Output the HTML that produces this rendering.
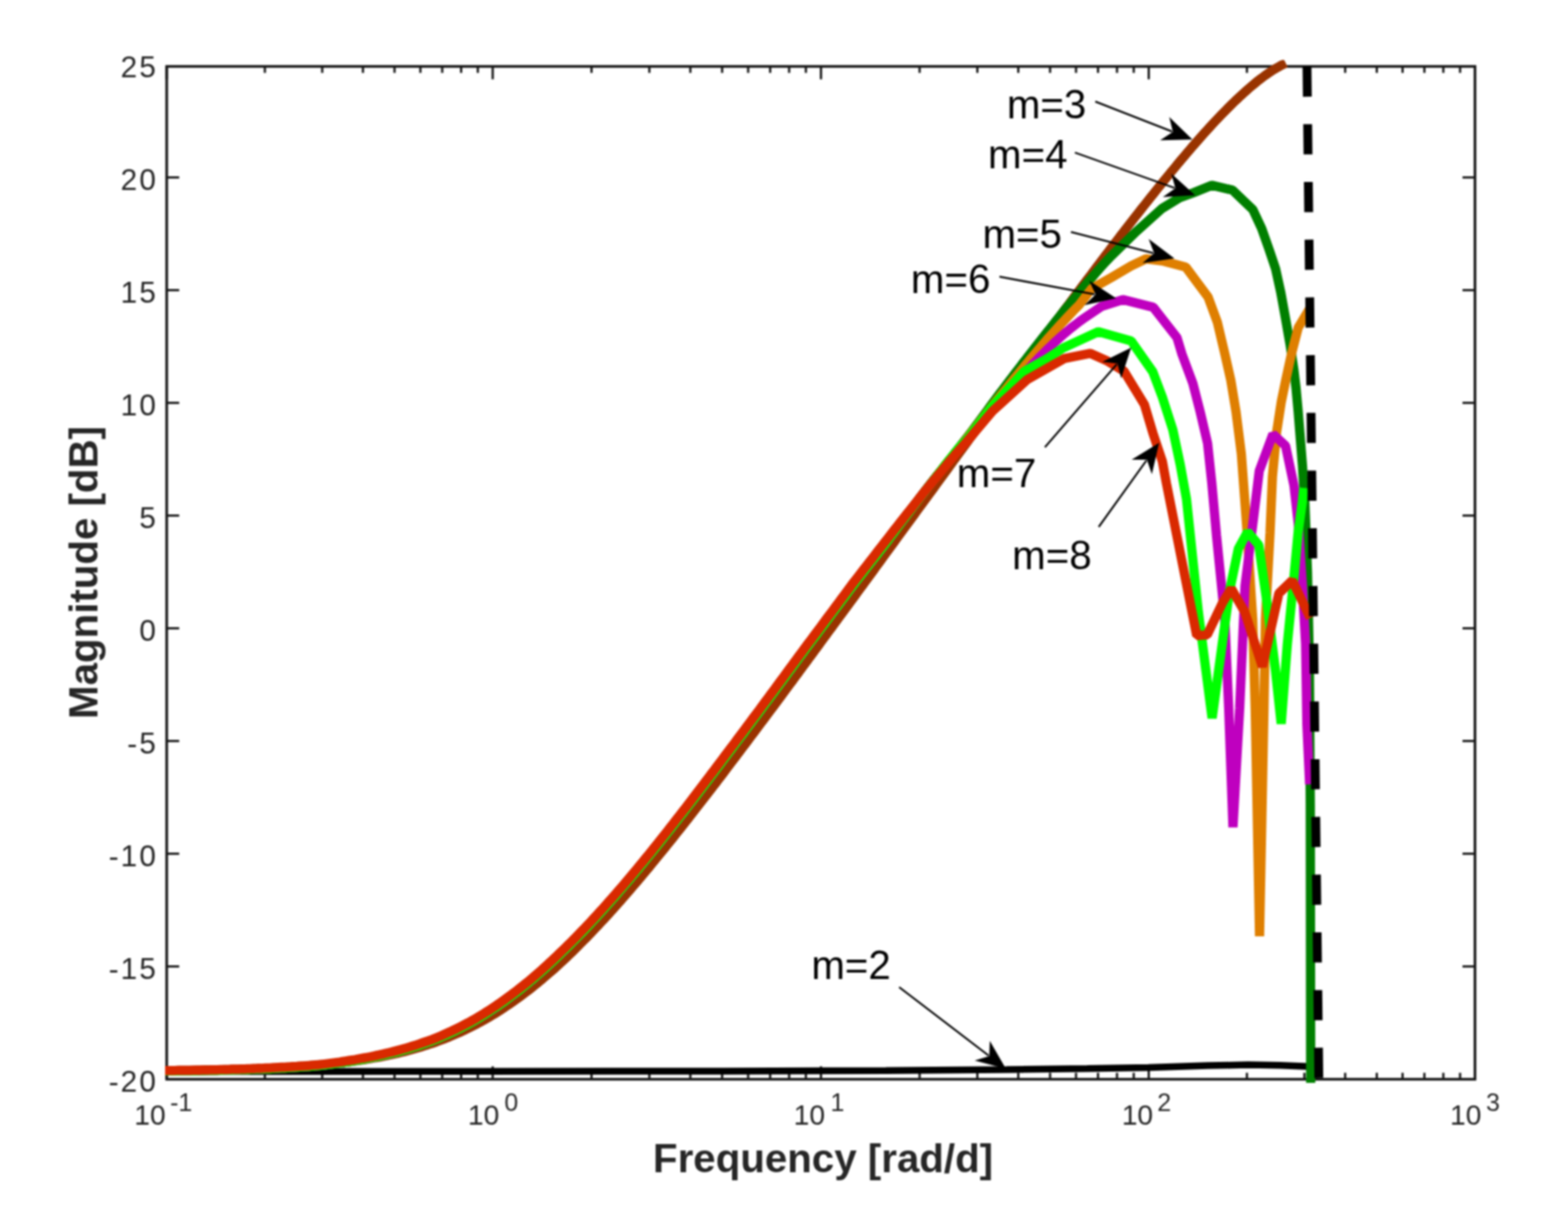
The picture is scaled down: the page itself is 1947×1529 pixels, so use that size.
<!DOCTYPE html>
<html><head><meta charset="utf-8"><title>Magnitude plot</title><style>html,body{margin:0;padding:0;background:#fff;}svg{display:block;filter:blur(1.0px);}</style></head><body>
<svg xmlns="http://www.w3.org/2000/svg" width="1947" height="1529" viewBox="0 0 1947 1529">
<rect x="0" y="0" width="1947" height="1529" fill="#ffffff"/>
<g>
<defs><clipPath id="ax"><rect x="199.0" y="74.5" width="1640.5" height="1274.0"/></clipPath></defs>
<path d="M207.0,1340.5h15.5M1831.5,1340.5h-15.5M207.0,1200.3h15.5M1831.5,1200.3h-15.5M207.0,1060.3h15.5M1831.5,1060.3h-15.5M207.0,920.3h15.5M1831.5,920.3h-15.5M207.0,780.3h15.5M1831.5,780.3h-15.5M207.0,640.3h15.5M1831.5,640.3h-15.5M207.0,500.3h15.5M1831.5,500.3h-15.5M207.0,360.3h15.5M1831.5,360.3h-15.5M207.0,220.3h15.5M1831.5,220.3h-15.5M207.0,82.5h15.5M1831.5,82.5h-15.5M207.0,1340.5v-16M207.0,82.5v16M328.9,1340.5v-8M328.9,82.5v8M400.1,1340.5v-8M400.1,82.5v8M450.7,1340.5v-8M450.7,82.5v8M489.9,1340.5v-8M489.9,82.5v8M522.0,1340.5v-8M522.0,82.5v8M549.1,1340.5v-8M549.1,82.5v8M572.6,1340.5v-8M572.6,82.5v8M593.3,1340.5v-8M593.3,82.5v8M611.8,1340.5v-16M611.8,82.5v16M734.5,1340.5v-8M734.5,82.5v8M806.3,1340.5v-8M806.3,82.5v8M857.2,1340.5v-8M857.2,82.5v8M896.7,1340.5v-8M896.7,82.5v8M929.0,1340.5v-8M929.0,82.5v8M956.3,1340.5v-8M956.3,82.5v8M979.9,1340.5v-8M979.9,82.5v8M1000.7,1340.5v-8M1000.7,82.5v8M1019.4,1340.5v-16M1019.4,82.5v16M1141.9,1340.5v-8M1141.9,82.5v8M1213.6,1340.5v-8M1213.6,82.5v8M1264.4,1340.5v-8M1264.4,82.5v8M1303.9,1340.5v-8M1303.9,82.5v8M1336.1,1340.5v-8M1336.1,82.5v8M1363.4,1340.5v-8M1363.4,82.5v8M1387.0,1340.5v-8M1387.0,82.5v8M1407.8,1340.5v-8M1407.8,82.5v8M1426.4,1340.5v-16M1426.4,82.5v16M1548.3,1340.5v-8M1548.3,82.5v8M1619.7,1340.5v-8M1619.7,82.5v8M1670.3,1340.5v-8M1670.3,82.5v8M1709.6,1340.5v-8M1709.6,82.5v8M1741.6,1340.5v-8M1741.6,82.5v8M1768.7,1340.5v-8M1768.7,82.5v8M1792.2,1340.5v-8M1792.2,82.5v8M1813.0,1340.5v-8M1813.0,82.5v8M1831.5,1340.5v-16M1831.5,82.5v16" stroke="#161616" stroke-width="2.8" fill="none"/>
<rect x="207.0" y="82.5" width="1624.5" height="1258.0" fill="none" stroke="#161616" stroke-width="3.3"/>
<g clip-path="url(#ax)" fill="none" stroke-linejoin="bevel" stroke-linecap="butt">
<polyline points="205.0,1331.0 600.0,1330.8 900.0,1330.4 1100.0,1329.8 1250.0,1328.5 1350.0,1327.3 1426.0,1326.0 1500.0,1323.6 1550.0,1322.6 1590.0,1323.2 1620.0,1324.4 1627.5,1324.8" stroke="#000000" stroke-width="8.5"/>
<polyline points="205.0,1329.8 208.5,1329.8 212.0,1329.7 215.5,1329.7 219.0,1329.7 222.5,1329.6 226.0,1329.6 229.5,1329.5 233.0,1329.5 236.5,1329.4 240.0,1329.4 243.5,1329.3 247.0,1329.3 250.5,1329.2 253.9,1329.1 257.4,1329.1 260.9,1329.0 264.4,1328.9 267.9,1328.9 271.4,1328.8 274.9,1328.7 278.4,1328.6 281.9,1328.5 285.4,1328.4 288.9,1328.3 292.4,1328.3 295.9,1328.2 299.4,1328.0 302.9,1327.9 306.4,1327.8 309.9,1327.7 313.4,1327.6 316.9,1327.5 320.4,1327.3 323.9,1327.2 327.4,1327.1 330.9,1326.9 334.4,1326.7 337.9,1326.6 341.4,1326.4 344.8,1326.3 348.3,1326.1 351.8,1325.9 355.3,1325.7 358.8,1325.5 362.3,1325.3 365.8,1325.1 369.3,1324.8 372.8,1324.6 376.3,1324.4 379.8,1324.1 383.3,1323.9 386.8,1323.6 390.3,1323.3 393.8,1323.0 397.3,1322.7 400.8,1322.4 404.3,1322.1 407.8,1321.7 411.3,1321.4 414.8,1321.0 418.3,1320.6 421.8,1320.2 425.3,1319.8 428.8,1319.4 432.3,1319.0 435.8,1318.5 439.2,1318.0 442.7,1317.6 446.2,1317.1 449.7,1316.5 453.2,1316.0 456.7,1315.4 460.2,1314.8 463.7,1314.2 467.2,1313.6 470.7,1313.0 474.2,1312.3 477.7,1311.6 481.2,1310.9 484.7,1310.2 488.2,1309.4 491.7,1308.6 495.2,1307.8 498.7,1307.0 502.2,1306.1 505.7,1305.2 509.2,1304.3 512.7,1303.3 516.2,1302.3 519.7,1301.3 523.2,1300.2 526.7,1299.1 530.2,1298.0 533.6,1296.9 537.1,1295.7 540.6,1294.5 544.1,1293.2 547.6,1291.9 551.1,1290.6 554.6,1289.2 558.1,1287.8 561.6,1286.3 565.1,1284.8 568.6,1283.3 572.1,1281.7 575.6,1280.1 579.1,1278.4 582.6,1276.7 586.1,1274.9 589.6,1273.1 593.1,1271.3 596.6,1269.4 600.1,1267.5 603.6,1265.5 607.1,1263.5 610.6,1261.4 614.1,1259.3 617.6,1257.1 621.1,1254.9 624.5,1252.6 628.0,1250.3 631.5,1248.0 635.0,1245.6 638.5,1243.1 642.0,1240.6 645.5,1238.1 649.0,1235.5 652.5,1232.8 656.0,1230.1 659.5,1227.4 663.0,1224.6 666.5,1221.8 670.0,1218.9 673.5,1216.0 677.0,1213.0 680.5,1210.0 684.0,1207.0 687.5,1203.9 691.0,1200.7 694.5,1197.5 698.0,1194.3 701.5,1191.0 705.0,1187.7 708.5,1184.3 712.0,1181.0 715.5,1177.5 718.9,1174.0 722.4,1170.5 725.9,1167.0 729.4,1163.4 732.9,1159.8 736.4,1156.1 739.9,1152.4 743.4,1148.7 746.9,1144.9 750.4,1141.2 753.9,1137.3 757.4,1133.5 760.9,1129.6 764.4,1125.7 767.9,1121.7 771.4,1117.8 774.9,1113.8 778.4,1109.7 781.9,1105.7 785.4,1101.6 788.9,1097.5 792.4,1093.4 795.9,1089.2 799.4,1085.1 802.9,1080.9 806.4,1076.7 809.8,1072.4 813.3,1068.2 816.8,1063.9 820.3,1059.6 823.8,1055.3 827.3,1051.0 830.8,1046.6 834.3,1042.3 837.8,1037.9 841.3,1033.5 844.8,1029.1 848.3,1024.7 851.8,1020.2 855.3,1015.8 858.8,1011.3 862.3,1006.8 865.8,1002.3 869.3,997.8 872.8,993.3 876.3,988.8 879.8,984.2 883.3,979.7 886.8,975.1 890.3,970.6 893.8,966.0 897.3,961.4 900.8,956.8 904.2,952.2 907.7,947.6 911.2,943.0 914.7,938.4 918.2,933.7 921.7,929.1 925.2,924.5 928.7,919.8 932.2,915.1 935.7,910.5 939.2,905.8 942.7,901.1 946.2,896.4 949.7,891.8 953.2,887.1 956.7,882.4 960.2,877.7 963.7,873.0 967.2,868.3 970.7,863.5 974.2,858.8 977.7,854.1 981.2,849.4 984.7,844.7 988.2,839.9 991.7,835.2 995.2,830.4 998.6,825.7 1002.1,821.0 1005.6,816.2 1009.1,811.5 1012.6,806.7 1016.1,802.0 1019.6,797.2 1023.1,792.4 1026.6,787.7 1030.1,782.9 1033.6,778.2 1037.1,773.4 1040.6,768.6 1044.1,763.9 1047.6,759.1 1051.1,754.3 1054.6,749.5 1058.1,744.8 1061.6,740.0 1065.1,735.2 1068.6,730.4 1072.1,725.7 1075.6,720.9 1079.1,716.1 1082.6,711.3 1086.1,706.5 1089.5,701.7 1093.0,697.0 1096.5,692.2 1100.0,687.4 1103.5,682.6 1107.0,677.8 1110.5,673.0 1114.0,668.2 1117.5,663.4 1121.0,658.6 1124.5,653.9 1128.0,649.1 1131.5,644.3 1135.0,639.5 1138.5,634.7 1142.0,629.9 1145.5,625.1 1149.0,620.3 1152.5,615.5 1156.0,610.8 1159.5,606.0 1163.0,601.2 1166.5,596.4 1170.0,591.6 1173.5,586.8 1177.0,582.0 1180.5,577.2 1183.9,572.4 1187.4,567.7 1190.9,562.9 1194.4,558.1 1197.9,553.3 1201.4,548.5 1204.9,543.7 1208.4,539.0 1211.9,534.2 1215.4,529.4 1218.9,524.6 1222.4,519.9 1225.9,515.1 1229.4,510.3 1232.9,505.5 1236.4,500.8 1239.9,496.0 1243.4,491.2 1246.9,486.5 1250.4,481.7 1253.9,476.9 1257.4,472.2 1260.9,467.4 1264.4,462.7 1267.9,457.9 1271.4,453.2 1274.8,448.4 1278.3,443.7 1281.8,439.0 1285.3,434.2 1288.8,429.5 1292.3,424.7 1295.8,420.0 1299.3,415.3 1302.8,410.6 1306.3,405.9 1309.8,401.1 1313.3,396.4 1316.8,391.7 1320.3,387.0 1323.8,382.3 1327.3,377.7 1330.8,373.0 1334.3,368.3 1337.8,363.6 1341.3,359.0 1344.8,354.3 1348.3,349.6 1351.8,345.0 1355.3,340.4 1358.8,335.7 1362.3,331.1 1365.8,326.5 1369.2,321.9 1372.7,317.3 1376.2,312.7 1379.7,308.1 1383.2,303.5 1386.7,299.0 1390.2,294.4 1393.7,289.9 1397.2,285.3 1400.7,280.8 1404.2,276.3 1407.7,271.8 1411.2,267.3 1414.7,262.9 1418.2,258.4 1421.7,254.0 1425.2,249.6 1428.7,245.2 1432.2,240.8 1435.7,236.4 1439.2,232.0 1442.7,227.7 1446.2,223.4 1449.7,219.1 1453.2,214.8 1456.7,210.6 1460.2,206.4 1463.6,202.2 1467.1,198.0 1470.6,193.9 1474.1,189.8 1477.6,185.7 1481.1,181.6 1484.6,177.6 1488.1,173.6 1491.6,169.6 1495.1,165.7 1498.6,161.8 1502.1,158.0 1505.6,154.2 1509.1,150.4 1512.6,146.7 1516.1,143.1 1519.6,139.5 1523.1,135.9 1526.6,132.4 1530.1,128.9 1533.6,125.5 1537.1,122.2 1540.6,118.9 1544.1,115.7 1547.6,112.6 1551.1,109.5 1554.5,106.6 1558.0,103.7 1561.5,100.8 1565.0,98.1 1568.5,95.5 1572.0,92.9 1575.5,90.5 1579.0,88.2 1582.5,86.0 1586.0,83.9 1589.5,81.9 1593.0,80.1 1596.5,78.4" stroke="#993300" stroke-width="11.5"/>
<polyline points="205.0,1330.3 208.9,1330.3 212.8,1330.2 216.7,1330.2 220.6,1330.2 224.5,1330.1 228.4,1330.1 232.3,1330.0 236.2,1330.0 240.1,1329.9 244.0,1329.8 247.9,1329.8 251.8,1329.7 255.7,1329.6 259.5,1329.6 263.4,1329.5 267.3,1329.4 271.2,1329.3 275.1,1329.3 279.0,1329.2 282.9,1329.1 286.8,1329.0 290.7,1328.9 294.6,1328.8 298.5,1328.6 302.4,1328.5 306.3,1328.4 310.2,1328.3 314.1,1328.2 318.0,1328.0 321.9,1327.9 325.8,1327.7 329.7,1327.6 333.6,1327.4 337.5,1327.2 341.4,1327.0 345.3,1326.8 349.2,1326.6 353.1,1326.4 357.0,1326.2 360.9,1326.0 364.7,1325.8 368.6,1325.5 372.5,1325.3 376.4,1325.0 380.3,1324.7 384.2,1324.4 388.1,1324.1 392.0,1323.8 395.9,1323.5 399.8,1323.1 403.7,1322.7 407.6,1322.2 411.5,1321.7 415.4,1321.2 419.3,1320.6 423.2,1320.1 427.1,1319.5 431.0,1318.9 434.9,1318.3 438.8,1317.7 442.7,1317.0 446.6,1316.4 450.5,1315.7 454.4,1315.0 458.3,1314.2 462.2,1313.4 466.1,1312.7 469.9,1311.8 473.8,1311.0 477.7,1310.1 481.6,1309.2 485.5,1308.3 489.4,1307.3 493.3,1306.3 497.2,1305.2 501.1,1304.2 505.0,1303.0 508.9,1301.9 512.8,1300.7 516.7,1299.5 520.6,1298.2 524.5,1296.9 528.4,1295.5 532.3,1294.2 536.2,1292.7 540.1,1291.2 544.0,1289.7 547.9,1288.0 551.8,1286.3 555.7,1284.6 559.6,1282.8 563.5,1281.0 567.4,1279.1 571.3,1277.2 575.2,1275.2 579.0,1273.2 582.9,1271.1 586.8,1268.9 590.7,1266.7 594.6,1264.4 598.5,1262.1 602.4,1259.7 606.3,1257.2 610.2,1254.7 614.1,1252.1 618.0,1249.4 621.9,1246.7 625.8,1244.0 629.7,1241.2 633.6,1238.3 637.5,1235.3 641.4,1232.4 645.3,1229.3 649.2,1226.3 653.1,1223.1 657.0,1219.9 660.9,1216.7 664.8,1213.4 668.7,1210.0 672.6,1206.6 676.5,1203.1 680.4,1199.6 684.2,1196.0 688.1,1192.3 692.0,1188.6 695.9,1184.9 699.8,1181.1 703.7,1177.3 707.6,1173.5 711.5,1169.6 715.4,1165.7 719.3,1161.7 723.2,1157.7 727.1,1153.6 731.0,1149.5 734.9,1145.3 738.8,1141.1 742.7,1136.9 746.6,1132.6 750.5,1128.3 754.4,1123.9 758.3,1119.5 762.2,1115.1 766.1,1110.6 770.0,1106.1 773.9,1101.5 777.8,1097.0 781.7,1092.3 785.6,1087.7 789.4,1083.0 793.3,1078.3 797.2,1073.6 801.1,1068.9 805.0,1064.1 808.9,1059.3 812.8,1054.4 816.7,1049.6 820.6,1044.7 824.5,1039.8 828.4,1034.9 832.3,1029.9 836.2,1025.0 840.1,1020.0 844.0,1015.0 847.9,1010.0 851.8,1004.9 855.7,999.9 859.6,994.8 863.5,989.7 867.4,984.6 871.3,979.5 875.2,974.3 879.1,969.2 883.0,964.0 886.9,958.8 890.8,953.7 894.6,948.5 898.5,943.3 902.4,938.1 906.3,932.9 910.2,927.7 914.1,922.6 918.0,917.4 921.9,912.2 925.8,907.0 929.7,901.8 933.6,896.5 937.5,891.3 941.4,886.1 945.3,880.8 949.2,875.6 953.1,870.3 957.0,865.0 960.9,859.8 964.8,854.5 968.7,849.2 972.6,843.9 976.5,838.7 980.4,833.4 984.3,828.1 988.2,822.8 992.1,817.5 996.0,812.1 999.8,806.8 1003.7,801.6 1007.6,796.4 1011.5,791.2 1015.4,786.0 1019.3,780.7 1023.2,775.5 1027.1,770.3 1031.0,765.0 1034.9,759.8 1038.8,754.6 1042.7,749.3 1046.6,744.1 1050.5,738.8 1054.4,733.6 1058.3,728.3 1062.2,723.2 1066.1,718.2 1070.0,713.2 1073.9,708.2 1077.8,703.2 1081.7,698.2 1085.6,693.2 1089.5,688.2 1093.4,683.2 1097.3,678.2 1101.2,673.1 1105.1,667.8 1108.9,662.6 1112.8,657.4 1116.7,652.2 1120.6,647.0 1124.5,641.8 1128.4,636.6 1132.3,631.4 1136.2,626.3 1140.1,621.1 1144.0,615.9 1147.9,610.7 1151.8,605.6 1155.7,600.6 1159.6,595.6 1163.5,590.7 1167.4,585.8 1171.3,580.9 1175.2,575.9 1179.1,570.9 1183.0,566.0 1186.9,561.0 1190.8,556.1 1194.7,551.1 1198.6,546.0 1202.5,541.0 1206.4,535.9 1210.3,530.8 1214.1,525.7 1218.0,520.4 1221.9,515.1 1225.8,509.8 1229.7,504.5 1233.6,499.2 1237.5,494.0 1241.4,488.8 1245.3,483.6 1249.2,478.4 1253.1,473.3 1257.0,468.2 1260.9,463.1 1264.8,458.0 1268.7,452.9 1272.6,447.9 1276.5,442.8 1280.4,437.8 1284.3,432.8 1288.2,427.8 1292.1,422.8 1296.0,417.8 1299.9,412.9 1303.8,408.0 1307.7,403.1 1311.6,398.2 1315.5,393.3 1319.3,388.5 1323.2,383.7 1327.1,378.9 1331.0,374.2 1334.9,369.4 1338.8,364.7 1342.7,360.1 1346.6,355.4 1350.5,350.8 1354.4,346.3 1358.3,341.7 1362.2,337.3 1366.1,332.8 1370.0,328.4 1380.0,317.8 1411.4,287.2 1442.8,259.0 1464.8,245.6 1482.0,239.3 1504.8,230.2 1530.4,236.1 1555.7,260.4 1566.7,284.0 1576.1,310.6 1584.0,334.2 1590.2,362.4 1596.5,397.0 1602.0,428.4 1606.7,459.8 1609.3,482.0 1612.0,511.8 1617.2,577.2 1620.3,625.0 1623.5,710.0 1625.8,820.0 1627.0,1000.0 1627.5,1345.0" stroke="#007f00" stroke-width="11.5"/>
<polyline points="205.0,1330.3 208.8,1330.3 212.6,1330.2 216.4,1330.2 220.2,1330.2 224.0,1330.1 227.8,1330.1 231.6,1330.0 235.4,1330.0 239.2,1329.9 243.0,1329.9 246.8,1329.8 250.6,1329.7 254.3,1329.7 258.1,1329.6 261.9,1329.5 265.7,1329.5 269.5,1329.4 273.3,1329.3 277.1,1329.2 280.9,1329.1 284.7,1329.0 288.5,1328.9 292.3,1328.8 296.1,1328.7 299.9,1328.6 303.7,1328.5 307.5,1328.4 311.3,1328.2 315.1,1328.1 318.9,1328.0 322.7,1327.8 326.5,1327.7 330.3,1327.5 334.1,1327.4 337.9,1327.2 341.7,1327.0 345.5,1326.8 349.2,1326.6 353.0,1326.4 356.8,1326.2 360.6,1326.0 364.4,1325.8 368.2,1325.5 372.0,1325.3 375.8,1325.0 379.6,1324.8 383.4,1324.5 387.2,1324.2 391.0,1323.9 394.8,1323.6 398.6,1323.2 402.4,1322.8 406.2,1322.4 410.0,1321.9 413.8,1321.4 417.6,1320.9 421.4,1320.3 425.2,1319.8 429.0,1319.2 432.8,1318.7 436.6,1318.1 440.4,1317.4 444.1,1316.8 447.9,1316.1 451.7,1315.4 455.5,1314.7 459.3,1314.0 463.1,1313.3 466.9,1312.5 470.7,1311.7 474.5,1310.8 478.3,1310.0 482.1,1309.1 485.9,1308.2 489.7,1307.2 493.5,1306.2 497.3,1305.2 501.1,1304.2 504.9,1303.1 508.7,1302.0 512.5,1300.8 516.3,1299.6 520.1,1298.4 523.9,1297.1 527.7,1295.8 531.5,1294.5 535.3,1293.1 539.0,1291.6 542.8,1290.1 546.6,1288.5 550.4,1286.9 554.2,1285.3 558.0,1283.5 561.8,1281.8 565.6,1280.0 569.4,1278.1 573.2,1276.2 577.0,1274.2 580.8,1272.2 584.6,1270.2 588.4,1268.1 592.2,1265.9 596.0,1263.6 599.8,1261.3 603.6,1258.9 607.4,1256.5 611.2,1254.0 615.0,1251.5 618.8,1248.9 622.6,1246.3 626.4,1243.6 630.2,1240.8 633.9,1238.0 637.7,1235.2 641.5,1232.2 645.3,1229.3 649.1,1226.3 652.9,1223.3 656.7,1220.1 660.5,1217.0 664.3,1213.8 668.1,1210.5 671.9,1207.2 675.7,1203.8 679.5,1200.3 683.3,1196.9 687.1,1193.3 690.9,1189.7 694.7,1186.1 698.5,1182.4 702.3,1178.7 706.1,1175.0 709.9,1171.2 713.7,1167.4 717.5,1163.6 721.3,1159.7 725.1,1155.7 728.8,1151.8 732.6,1147.7 736.4,1143.7 740.2,1139.6 744.0,1135.4 747.8,1131.2 751.6,1127.0 755.4,1122.7 759.2,1118.4 763.0,1114.1 766.8,1109.7 770.6,1105.3 774.4,1100.9 778.2,1096.4 782.0,1091.9 785.8,1087.4 789.6,1082.9 793.4,1078.3 797.2,1073.7 801.0,1069.1 804.8,1064.4 808.6,1059.7 812.4,1055.0 816.2,1050.3 819.9,1045.5 823.7,1040.8 827.5,1036.0 831.3,1031.2 835.1,1026.3 838.9,1021.5 842.7,1016.6 846.5,1011.7 850.3,1006.8 854.1,1001.9 857.9,997.0 861.7,992.0 865.5,987.0 869.3,982.1 873.1,977.1 876.9,972.1 880.7,967.0 884.5,962.0 888.3,957.0 892.1,951.9 895.9,946.8 899.7,941.8 903.5,936.7 907.3,931.7 911.1,926.7 914.8,921.6 918.6,916.6 922.4,911.5 926.2,906.4 930.0,901.3 933.8,896.2 937.6,891.1 941.4,886.0 945.2,880.9 949.0,875.8 952.8,870.7 956.6,865.6 960.4,860.4 964.2,855.3 968.0,850.2 971.8,845.0 975.6,839.9 979.4,834.7 983.2,829.5 987.0,824.4 990.8,819.2 994.6,814.0 998.4,808.9 1002.2,803.7 1006.0,798.7 1009.7,793.6 1013.5,788.5 1017.3,783.4 1021.1,778.3 1024.9,773.2 1028.7,768.1 1032.5,763.0 1036.3,757.9 1040.1,752.8 1043.9,747.7 1047.7,742.6 1051.5,737.5 1055.3,732.4 1059.1,727.3 1062.9,722.3 1066.7,717.5 1070.5,712.6 1074.3,707.7 1078.1,702.8 1081.9,697.9 1085.7,693.1 1089.5,688.2 1093.3,683.3 1097.1,678.4 1100.9,673.5 1104.6,668.4 1108.4,663.2 1112.2,658.2 1116.0,653.1 1119.8,648.1 1123.6,643.0 1127.4,638.0 1131.2,632.9 1135.0,627.9 1138.8,622.8 1142.6,617.8 1146.4,612.7 1150.2,607.7 1154.0,602.8 1157.8,597.9 1161.6,593.1 1165.4,588.4 1169.2,583.6 1173.0,578.9 1176.8,574.1 1180.6,569.3 1184.4,564.6 1188.2,559.9 1192.0,555.2 1195.8,550.4 1199.5,545.7 1203.3,540.9 1207.1,536.1 1210.9,531.4 1214.7,526.6 1218.5,521.6 1222.3,516.7 1226.1,511.8 1229.9,506.9 1233.7,502.1 1237.5,497.3 1241.3,492.6 1245.1,487.9 1248.9,483.3 1252.7,478.6 1256.5,473.9 1260.3,469.2 1264.1,464.6 1267.9,459.9 1271.7,455.3 1275.5,450.8 1279.3,446.2 1283.1,441.7 1286.9,437.2 1290.7,432.8 1294.4,428.3 1298.2,424.0 1302.0,419.6 1305.8,415.3 1309.6,411.1 1313.4,406.9 1317.2,402.7 1321.0,398.6 1324.8,394.5 1328.6,390.5 1332.4,386.5 1336.2,382.6 1340.0,378.8 1355.5,358.6 1380.0,344.7 1404.6,330.3 1423.0,321.5 1444.7,324.4 1472.4,331.8 1500.1,369.0 1511.6,400.3 1521.0,440.0 1528.3,472.3 1534.8,511.6 1541.4,563.9 1548.1,654.2 1555.5,769.2 1558.6,880.0 1564.0,1163.0 1569.5,880.0 1571.3,769.2 1577.0,662.0 1580.0,592.0 1585.0,538.0 1591.0,499.0 1597.0,470.0 1604.0,438.0 1612.0,407.0 1627.0,382.0" stroke="#df7f00" stroke-width="11.5"/>
<polyline points="205.0,1330.3 208.8,1330.3 212.6,1330.2 216.4,1330.2 220.3,1330.2 224.1,1330.1 227.9,1330.1 231.7,1330.0 235.5,1330.0 239.3,1329.9 243.1,1329.8 246.9,1329.8 250.8,1329.7 254.6,1329.7 258.4,1329.6 262.2,1329.5 266.0,1329.4 269.8,1329.4 273.6,1329.3 277.4,1329.2 281.3,1329.1 285.1,1329.0 288.9,1328.9 292.7,1328.8 296.5,1328.7 300.3,1328.6 304.1,1328.5 307.9,1328.4 311.8,1328.2 315.6,1328.1 319.4,1328.0 323.2,1327.8 327.0,1327.7 330.8,1327.5 334.6,1327.3 338.4,1327.2 342.3,1327.0 346.1,1326.8 349.9,1326.6 353.7,1326.4 357.5,1326.2 361.3,1326.0 365.1,1325.7 368.9,1325.5 372.8,1325.3 376.6,1325.0 380.4,1324.7 384.2,1324.4 388.0,1324.1 391.8,1323.8 395.6,1323.5 399.4,1323.2 403.3,1322.7 407.1,1322.3 410.9,1321.8 414.7,1321.3 418.5,1320.7 422.3,1320.2 426.1,1319.7 429.9,1319.1 433.8,1318.5 437.6,1317.9 441.4,1317.3 445.2,1316.6 449.0,1315.9 452.8,1315.2 456.6,1314.5 460.5,1313.8 464.3,1313.0 468.1,1312.2 471.9,1311.4 475.7,1310.6 479.5,1309.7 483.3,1308.8 487.1,1307.9 491.0,1306.9 494.8,1305.9 498.6,1304.9 502.4,1303.8 506.2,1302.7 510.0,1301.6 513.8,1300.4 517.6,1299.2 521.5,1297.9 525.3,1296.6 529.1,1295.3 532.9,1293.9 536.7,1292.5 540.5,1291.1 544.3,1289.5 548.1,1287.9 552.0,1286.3 555.8,1284.6 559.6,1282.8 563.4,1281.0 567.2,1279.2 571.0,1277.3 574.8,1275.4 578.6,1273.4 582.5,1271.3 586.3,1269.2 590.1,1267.1 593.9,1264.9 597.7,1262.6 601.5,1260.2 605.3,1257.8 609.1,1255.4 613.0,1252.9 616.8,1250.3 620.6,1247.7 624.4,1245.0 628.2,1242.2 632.0,1239.5 635.8,1236.6 639.6,1233.7 643.5,1230.8 647.3,1227.8 651.1,1224.7 654.9,1221.6 658.7,1218.5 662.5,1215.3 666.3,1212.0 670.2,1208.7 674.0,1205.3 677.8,1201.9 681.6,1198.4 685.4,1194.9 689.2,1191.3 693.0,1187.7 696.8,1184.0 700.7,1180.3 704.5,1176.6 708.3,1172.8 712.1,1169.0 715.9,1165.2 719.7,1161.3 723.5,1157.3 727.3,1153.3 731.2,1149.3 735.0,1145.2 738.8,1141.1 742.6,1137.0 746.4,1132.8 750.2,1128.6 754.0,1124.3 757.8,1120.0 761.7,1115.6 765.5,1111.3 769.3,1106.9 773.1,1102.4 776.9,1098.0 780.7,1093.5 784.5,1088.9 788.3,1084.4 792.2,1079.8 796.0,1075.2 799.8,1070.5 803.6,1065.8 807.4,1061.2 811.2,1056.4 815.0,1051.7 818.8,1046.9 822.7,1042.1 826.5,1037.3 830.3,1032.5 834.1,1027.7 837.9,1022.8 841.7,1017.9 845.5,1013.0 849.3,1008.1 853.2,1003.1 857.0,998.2 860.8,993.2 864.6,988.2 868.4,983.2 872.2,978.2 876.0,973.2 879.8,968.1 883.7,963.1 887.5,958.0 891.3,953.0 895.1,947.9 898.9,942.8 902.7,937.7 906.5,932.7 910.4,927.6 914.2,922.5 918.0,917.4 921.8,912.4 925.6,907.3 929.4,902.2 933.2,897.0 937.0,891.9 940.9,886.8 944.7,881.7 948.5,876.5 952.3,871.4 956.1,866.2 959.9,861.1 963.7,855.9 967.5,850.8 971.4,845.6 975.2,840.4 979.0,835.2 982.8,830.1 986.6,824.9 990.4,819.7 994.2,814.5 998.0,809.3 1001.9,804.1 1005.7,799.0 1009.5,793.9 1013.3,788.8 1017.1,783.7 1020.9,778.6 1024.7,773.5 1028.5,768.4 1032.4,763.2 1036.2,758.1 1040.0,753.0 1043.8,747.9 1047.6,742.7 1051.4,737.6 1055.2,732.5 1059.0,727.3 1062.9,722.4 1066.7,717.5 1070.5,712.6 1074.3,707.7 1078.1,702.8 1081.9,697.9 1085.7,693.0 1089.5,688.1 1093.4,683.2 1097.2,678.3 1101.0,673.3 1104.8,668.2 1108.6,663.0 1112.4,657.9 1116.2,652.8 1120.1,647.8 1123.9,642.7 1127.7,637.6 1131.5,632.6 1135.3,627.5 1139.1,622.4 1142.9,617.3 1146.7,612.3 1150.6,607.2 1154.4,602.3 1158.2,597.4 1162.0,592.7 1165.8,588.0 1169.6,583.3 1173.4,578.6 1177.2,573.9 1181.1,569.2 1184.9,564.7 1188.7,560.1 1192.5,555.5 1196.3,550.9 1200.1,546.3 1203.9,541.7 1207.7,537.2 1211.6,532.7 1215.4,528.1 1219.2,523.5 1223.0,518.8 1226.8,514.3 1230.6,509.8 1234.4,505.4 1238.2,501.1 1242.1,496.9 1245.9,492.7 1249.7,488.7 1253.5,484.3 1257.3,480.0 1261.1,475.7 1264.9,471.4 1268.7,467.2 1272.6,463.0 1276.4,458.8 1280.2,454.8 1284.0,450.7 1287.8,446.8 1291.6,442.8 1295.4,439.0 1299.2,435.2 1303.1,431.5 1306.9,427.8 1310.7,424.3 1314.5,420.8 1318.3,417.3 1322.1,414.0 1325.9,410.8 1329.7,407.6 1333.6,404.6 1337.4,401.7 1341.2,398.8 1345.0,396.1 1368.0,380.6 1394.2,372.2 1432.0,381.6 1461.4,419.2 1467.7,440.0 1481.2,476.2 1490.3,511.6 1499.5,550.8 1504.7,600.0 1510.5,664.6 1520.9,769.2 1525.7,880.0 1531.0,1027.5 1539.3,880.0 1546.0,727.4 1556.5,643.7 1563.6,585.1 1580.6,539.3 1596.3,553.7 1606.8,603.4 1612.0,650.0 1617.2,727.4 1621.2,800.0 1622.8,900.0 1626.2,974.2" stroke="#bf00bf" stroke-width="11.5"/>
<polyline points="205.0,1330.3 208.8,1330.3 212.6,1330.2 216.4,1330.2 220.2,1330.2 224.0,1330.1 227.8,1330.1 231.6,1330.0 235.4,1330.0 239.2,1329.9 243.0,1329.9 246.8,1329.8 250.6,1329.7 254.4,1329.7 258.2,1329.6 262.0,1329.5 265.8,1329.4 269.7,1329.4 273.5,1329.3 277.3,1329.2 281.1,1329.1 284.9,1329.0 288.7,1328.9 292.5,1328.8 296.3,1328.7 300.1,1328.6 303.9,1328.5 307.7,1328.4 311.5,1328.2 315.3,1328.1 319.1,1328.0 322.9,1327.8 326.7,1327.7 330.5,1327.5 334.3,1327.4 338.1,1327.2 341.9,1327.0 345.7,1326.8 349.5,1326.6 353.3,1326.4 357.1,1326.2 360.9,1326.0 364.7,1325.8 368.5,1325.5 372.3,1325.3 376.1,1325.0 379.9,1324.7 383.7,1324.5 387.5,1324.2 391.4,1323.9 395.2,1323.5 399.0,1323.2 402.8,1322.8 406.6,1322.3 410.4,1321.8 414.2,1321.3 418.0,1320.8 421.8,1320.3 425.6,1319.7 429.4,1319.2 433.2,1318.6 437.0,1318.0 440.8,1317.4 444.6,1316.7 448.4,1316.0 452.2,1315.4 456.0,1314.6 459.8,1313.9 463.6,1313.2 467.4,1312.4 471.2,1311.6 475.0,1310.7 478.8,1309.9 482.6,1309.0 486.4,1308.0 490.2,1307.1 494.0,1306.1 497.8,1305.1 501.6,1304.0 505.4,1302.9 509.2,1301.8 513.1,1300.6 516.9,1299.4 520.7,1298.2 524.5,1296.9 528.3,1295.6 532.1,1294.2 535.9,1292.8 539.7,1291.4 543.5,1289.9 547.3,1288.3 551.1,1286.6 554.9,1285.0 558.7,1283.2 562.5,1281.5 566.3,1279.6 570.1,1277.8 573.9,1275.8 577.7,1273.9 581.5,1271.9 585.3,1269.8 589.1,1267.7 592.9,1265.4 596.7,1263.2 600.5,1260.8 604.3,1258.5 608.1,1256.0 611.9,1253.5 615.7,1251.0 619.5,1248.4 623.3,1245.7 627.1,1243.0 630.9,1240.2 634.7,1237.4 638.6,1234.5 642.4,1231.6 646.2,1228.7 650.0,1225.6 653.8,1222.6 657.6,1219.4 661.4,1216.3 665.2,1213.0 669.0,1209.7 672.8,1206.4 676.6,1203.0 680.4,1199.5 684.2,1196.0 688.0,1192.5 691.8,1188.9 695.6,1185.2 699.4,1181.5 703.2,1177.8 707.0,1174.1 710.8,1170.3 714.6,1166.5 718.4,1162.6 722.2,1158.7 726.0,1154.7 729.8,1150.7 733.6,1146.7 737.4,1142.6 741.2,1138.5 745.0,1134.3 748.8,1130.1 752.6,1125.8 756.4,1121.6 760.3,1117.2 764.1,1112.9 767.9,1108.5 771.7,1104.1 775.5,1099.6 779.3,1095.2 783.1,1090.7 786.9,1086.1 790.7,1081.6 794.5,1077.0 798.3,1072.3 802.1,1067.7 805.9,1063.0 809.7,1058.3 813.5,1053.6 817.3,1048.9 821.1,1044.1 824.9,1039.3 828.7,1034.5 832.5,1029.7 836.3,1024.8 840.1,1020.0 843.9,1015.1 847.7,1010.2 851.5,1005.3 855.3,1000.3 859.1,995.4 862.9,990.4 866.7,985.4 870.5,980.4 874.3,975.4 878.1,970.4 881.9,965.4 885.8,960.3 889.6,955.3 893.4,950.2 897.2,945.1 901.0,940.0 904.8,935.0 908.6,930.0 912.4,924.9 916.2,919.8 920.0,914.8 923.8,909.7 927.6,904.6 931.4,899.5 935.2,894.4 939.0,889.3 942.8,884.2 946.6,879.1 950.4,873.9 954.2,868.8 958.0,863.7 961.8,858.5 965.6,853.4 969.4,848.2 973.2,843.1 977.0,837.9 980.8,832.7 984.6,827.6 988.4,822.4 992.2,817.2 996.0,812.0 999.8,806.8 1003.6,801.7 1007.5,796.6 1011.3,791.6 1015.1,786.5 1018.9,781.4 1022.7,776.3 1026.5,771.1 1030.3,766.0 1034.1,760.9 1037.9,755.8 1041.7,750.7 1045.5,745.6 1049.3,740.5 1053.1,735.4 1056.9,730.2 1060.7,725.2 1064.5,720.3 1068.3,715.4 1072.1,710.5 1075.9,705.6 1079.7,700.7 1083.5,695.8 1087.3,690.9 1091.1,686.1 1094.9,681.2 1098.7,676.3 1102.5,671.2 1106.3,666.1 1110.1,661.0 1113.9,655.9 1117.7,650.8 1121.5,645.8 1125.3,640.7 1129.2,635.7 1133.0,630.6 1136.8,625.6 1140.6,620.5 1144.4,615.4 1148.2,610.4 1152.0,605.4 1155.8,600.5 1159.6,595.7 1163.4,590.8 1167.2,585.9 1171.0,581.0 1174.8,576.1 1178.6,571.3 1182.4,566.5 1186.2,561.7 1190.0,557.0 1200.0,546.5 1232.0,505.0 1271.6,461.5 1300.0,445.5 1320.0,432.3 1363.8,412.0 1404.6,423.5 1431.5,461.9 1443.3,493.3 1456.3,533.8 1465.5,577.0 1473.3,620.0 1488.0,760.0 1505.1,892.0 1526.5,735.0 1537.7,681.4 1549.2,660.5 1563.0,677.0 1573.2,748.3 1583.7,832.0 1590.9,899.0 1598.5,800.0 1606.7,717.0 1612.0,660.0 1617.2,622.8 1618.8,606.0" stroke="#00ff00" stroke-width="11.5"/>
<polyline points="205.0,1329.8 208.8,1329.8 212.6,1329.7 216.4,1329.7 220.2,1329.6 224.0,1329.6 227.8,1329.5 231.6,1329.4 235.4,1329.4 239.2,1329.3 243.0,1329.2 246.8,1329.2 250.6,1329.1 254.4,1329.0 258.2,1328.9 262.0,1328.8 265.8,1328.7 269.7,1328.7 273.5,1328.6 277.3,1328.5 281.1,1328.4 284.9,1328.3 288.7,1328.1 292.5,1328.0 296.3,1327.9 300.1,1327.8 303.9,1327.7 307.7,1327.5 311.5,1327.4 315.3,1327.2 319.1,1327.1 322.9,1326.9 326.7,1326.8 330.5,1326.6 334.3,1326.4 338.1,1326.2 341.9,1326.0 345.7,1325.8 349.5,1325.6 353.3,1325.4 357.1,1325.2 360.9,1325.0 364.7,1324.7 368.5,1324.5 372.3,1324.2 376.1,1323.9 379.9,1323.7 383.7,1323.4 387.5,1323.1 391.4,1322.7 395.2,1322.4 399.0,1322.1 402.8,1321.6 406.6,1321.1 410.4,1320.6 414.2,1320.1 418.0,1319.6 421.8,1319.1 425.6,1318.5 429.4,1317.9 433.2,1317.3 437.0,1316.7 440.8,1316.1 444.6,1315.4 448.4,1314.7 452.2,1314.0 456.0,1313.3 459.8,1312.6 463.6,1311.8 467.4,1311.0 471.2,1310.2 475.0,1309.3 478.8,1308.4 482.6,1307.5 486.4,1306.6 490.2,1305.6 494.0,1304.6 497.8,1303.6 501.6,1302.5 505.4,1301.4 509.2,1300.3 513.1,1299.1 516.9,1297.9 520.7,1296.6 524.5,1295.3 528.3,1294.0 532.1,1292.7 535.9,1291.3 539.7,1289.8 543.5,1288.3 547.3,1286.7 551.1,1285.0 554.9,1283.3 558.7,1281.6 562.5,1279.8 566.3,1278.0 570.1,1276.1 573.9,1274.2 577.7,1272.2 581.5,1270.2 585.3,1268.1 589.1,1265.9 592.9,1263.7 596.7,1261.4 600.5,1259.1 604.3,1256.7 608.1,1254.3 611.9,1251.8 615.7,1249.2 619.5,1246.6 623.3,1243.9 627.1,1241.2 630.9,1238.4 634.7,1235.6 638.6,1232.7 642.4,1229.8 646.2,1226.8 650.0,1223.8 653.8,1220.7 657.6,1217.6 661.4,1214.4 665.2,1211.1 669.0,1207.8 672.8,1204.5 676.6,1201.0 680.4,1197.6 684.2,1194.1 688.0,1190.5 691.8,1186.9 695.6,1183.2 699.4,1179.5 703.2,1175.8 707.0,1172.0 710.8,1168.3 714.6,1164.4 718.4,1160.5 722.2,1156.6 726.0,1152.7 729.8,1148.6 733.6,1144.6 737.4,1140.5 741.2,1136.4 745.0,1132.2 748.8,1128.0 752.6,1123.7 756.4,1119.4 760.3,1115.1 764.1,1110.7 767.9,1106.3 771.7,1101.9 775.5,1097.5 779.3,1093.0 783.1,1088.5 786.9,1083.9 790.7,1079.3 794.5,1074.7 798.3,1070.1 802.1,1065.4 805.9,1060.8 809.7,1056.1 813.5,1051.3 817.3,1046.6 821.1,1041.8 824.9,1037.0 828.7,1032.2 832.5,1027.3 836.3,1022.5 840.1,1017.6 843.9,1012.7 847.7,1007.8 851.5,1002.9 855.3,997.9 859.1,993.0 862.9,988.0 866.7,983.0 870.5,978.0 874.3,973.0 878.1,967.9 881.9,962.9 885.8,957.9 889.6,952.8 893.4,947.7 897.2,942.6 901.0,937.5 904.8,932.5 908.6,927.4 912.4,922.4 916.2,917.3 920.0,912.2 923.8,907.1 927.6,902.0 931.4,896.9 935.2,891.8 939.0,886.7 942.8,881.6 946.6,876.4 950.4,871.3 954.2,866.2 958.0,861.0 961.8,855.9 965.6,850.7 969.4,845.5 973.2,840.4 977.0,835.2 980.8,830.0 984.6,824.8 988.4,819.7 992.2,814.5 996.0,809.3 999.8,804.1 1003.6,799.0 1007.5,793.9 1011.3,788.8 1015.1,783.7 1018.9,778.6 1022.7,773.4 1026.5,768.3 1030.3,763.2 1034.1,758.1 1037.9,753.0 1041.7,747.9 1045.5,742.7 1049.3,737.6 1053.1,732.5 1056.9,727.3 1060.7,722.3 1064.5,717.4 1068.3,712.5 1072.1,707.6 1075.9,702.7 1079.7,697.8 1083.5,692.9 1087.3,688.0 1091.1,683.1 1094.9,678.2 1098.7,673.3 1102.5,668.4 1106.3,663.5 1110.1,658.6 1113.9,653.7 1117.7,648.9 1121.5,644.1 1125.3,639.2 1129.2,634.4 1133.0,629.6 1136.8,624.8 1140.6,619.9 1144.4,615.1 1148.2,610.3 1152.0,605.6 1155.8,601.0 1159.6,596.4 1163.4,591.8 1167.2,587.3 1171.0,582.7 1174.8,578.1 1178.6,573.5 1182.4,569.1 1186.2,564.6 1190.0,560.2 1199.2,550.0 1232.3,510.8 1275.5,471.6 1321.3,445.4 1354.0,438.9 1375.3,448.6 1395.7,461.0 1421.0,502.4 1431.5,537.7 1443.3,573.0 1448.3,600.0 1486.0,789.5 1499.0,788.4 1518.5,747.8 1529.0,731.0 1537.0,745.2 1545.6,760.0 1567.5,828.0 1588.0,737.0 1604.6,721.0 1627.0,767.5" stroke="#d92900" stroke-width="11.5"/>
</g>
<line x1="1622.9" y1="82.6" x2="1637.6" y2="1340.5" stroke="#000" stroke-width="11" stroke-dasharray="37.5 34.2"/>
<line x1="1360.0" y1="126.1" x2="1455.4" y2="163.4" stroke="#000" stroke-width="2.3"/><polygon points="1480.6,173.2 1451.8,145.3 1456.4,163.7 1440.5,174.2" fill="#000"/>
<line x1="1334.7" y1="189.5" x2="1458.6" y2="233.5" stroke="#000" stroke-width="2.3"/><polygon points="1484.0,242.5 1454.3,215.5 1459.5,233.8 1443.9,244.7" fill="#000"/>
<line x1="1329.8" y1="288.1" x2="1432.1" y2="314.3" stroke="#000" stroke-width="2.3"/><polygon points="1458.3,321.0 1426.3,296.8 1433.1,314.6 1418.6,326.8" fill="#000"/>
<line x1="1241.0" y1="343.7" x2="1359.4" y2="365.6" stroke="#000" stroke-width="2.3"/><polygon points="1386.0,370.5 1352.4,348.5 1360.4,365.8 1346.8,379.0" fill="#000"/>
<line x1="1297.5" y1="555.4" x2="1386.9" y2="452.2" stroke="#000" stroke-width="2.3"/><polygon points="1404.6,431.8 1368.7,449.6 1387.6,451.4 1392.1,469.9" fill="#000"/>
<line x1="1364.3" y1="654.5" x2="1423.6" y2="571.9" stroke="#000" stroke-width="2.3"/><polygon points="1439.3,550.0 1405.1,571.0 1424.1,571.1 1430.3,589.1" fill="#000"/>
<line x1="1116.5" y1="1226.1" x2="1227.6" y2="1311.1" stroke="#000" stroke-width="2.3"/><polygon points="1249.0,1327.5 1229.0,1292.7 1228.4,1311.7 1210.2,1317.3" fill="#000"/>
<g style="font-family:'Liberation Sans',Arial,Helvetica,sans-serif;font-size:37px;letter-spacing:2.5px" fill="#262626" text-anchor="end">
<text x="196.0" y="1355.8">-20</text>
<text x="196.0" y="1215.8">-15</text>
<text x="196.0" y="1075.8">-10</text>
<text x="196.0" y="935.8">-5</text>
<text x="196.0" y="795.8">0</text>
<text x="196.0" y="655.8">5</text>
<text x="196.0" y="515.8">10</text>
<text x="196.0" y="375.8">15</text>
<text x="196.0" y="235.8">20</text>
<text x="196.0" y="95.8">25</text>
</g>
<g style="font-family:'Liberation Sans',Arial,Helvetica,sans-serif" fill="#262626">
<text x="166.8" y="1397.4" style="font-size:35px">10</text>
<text x="211.2" y="1379.7" style="font-size:31px">-1</text>
<text x="581.0" y="1397.4" style="font-size:35px">10</text>
<text x="626.2" y="1379.7" style="font-size:31px">0</text>
<text x="985.5" y="1397.4" style="font-size:35px">10</text>
<text x="1031.2" y="1379.7" style="font-size:31px">1</text>
<text x="1392.9" y="1397.4" style="font-size:35px">10</text>
<text x="1437.1" y="1379.7" style="font-size:31px">2</text>
<text x="1800.5" y="1397.4" style="font-size:35px">10</text>
<text x="1845.2" y="1379.7" style="font-size:31px">3</text>
</g>
<text x="1022" y="1456" text-anchor="middle" style="font-family:'Liberation Sans',Arial,Helvetica,sans-serif;font-size:50px;font-weight:bold" fill="#262626">Frequency [rad/d]</text>
<text transform="translate(120.9,711) rotate(-90)" text-anchor="middle" style="font-family:'Liberation Sans',Arial,Helvetica,sans-serif;font-size:50px;font-weight:bold" fill="#262626">Magnitude [dB]</text>
<g style="font-family:'Liberation Sans',Arial,Helvetica,sans-serif;font-size:50px" fill="#000">
<text x="1250.2" y="146.6">m=3</text>
<text x="1226.8" y="209.0">m=4</text>
<text x="1219.9" y="307.6">m=5</text>
<text x="1131.1" y="364.2">m=6</text>
<text x="1188.1" y="604.5">m=7</text>
<text x="1256.8" y="706.5">m=8</text>
<text x="1007.4" y="1216.1">m=2</text>
</g>
</g>
</svg>
</body></html>
